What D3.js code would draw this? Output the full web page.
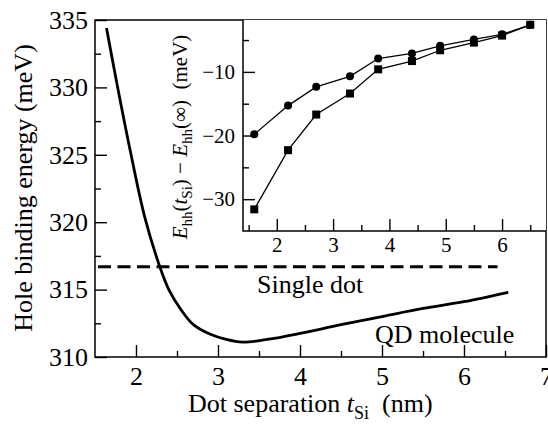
<!DOCTYPE html>
<html>
<head>
<meta charset="utf-8">
<script src="https://cdn.jsdelivr.net/npm/d3@7"></script>
<style>
body{margin:0;background:#fff;}
svg{display:block;}
</style>
</head>
<body>
<svg width="548" height="432"></svg>
<script>
// main curve: hole binding energy vs dot separation
var curveT = [1.64, 1.77, 1.94, 2.11, 2.29, 2.40, 2.55, 2.70, 2.90, 3.10, 3.30, 3.60, 4.00, 4.50, 5.00, 5.50, 6.00, 6.54];
var curveE = [334.4, 330.2, 325.0, 320.3, 316.7, 315.0, 313.5, 312.4, 311.7, 311.3, 311.1, 311.3, 311.75, 312.4, 313.0, 313.6, 314.1, 314.8];
var singleDot = 316.7;
var singleT = [1.5, 6.41];

// inset data
var insetT = [1.6, 2.2, 2.7, 3.3, 3.8, 4.4, 4.9, 5.5, 6.0, 6.5];
var insetCircle = [-19.8, -15.3, -12.35, -10.7, -7.9, -7.1, -5.9, -4.9, -4.1, -2.6];
var insetSquare = [-31.6, -22.3, -16.7, -13.4, -9.6, -8.3, -6.6, -5.4, -4.3, -2.6];

var xMajor = [2, 3, 4, 5, 6, 7];
var xMinor = [2.5, 3.5, 4.5, 5.5, 6.5];
var yMajor = [310, 315, 320, 325, 330, 335];
var yMinor = [312.5, 317.5, 322.5, 327.5, 332.5];
var xiMajor = [2, 3, 4, 5, 6];
var xiMinor = [1.5, 2.5, 3.5, 4.5, 5.5, 6.5];
var yiMajor = [-30, -20, -10];
var yiMinor = [-25, -15, -5];

var FONT = "Liberation Serif";

var svg = d3.select("svg").attr("font-family", FONT);

var x = d3.scaleLinear().domain([1.5, 7]).range([95, 546]);
var y = d3.scaleLinear().domain([310, 335]).range([357, 20]);
var xi = d3.scaleLinear().domain([1.4, 6.78]).range([243, 546]);
var yi = d3.scaleLinear().domain([-35, -1.8]).range([231, 19.7]);

function styleAxis(g, size){
	g.attr("font-family", FONT).attr("font-size", size);
	g.select(".domain").remove();
	g.selectAll("line").attr("stroke", "#000").attr("stroke-width", 1.4);
	g.selectAll("text").attr("font-family", FONT).attr("font-size", size).attr("fill", "#000");
}

function addText(parent, size){
	return parent.append("text").attr("font-family", FONT).attr("font-size", size).attr("fill", "#000");
}

// main axes
svg.append("g").attr("transform", "translate(0,357)")
	.call(d3.axisBottom(x).tickValues(xMajor).tickSize(-12).tickPadding(10).tickFormat(d3.format("d")))
	.call(styleAxis, 26);
svg.append("g").attr("transform", "translate(0,357)")
	.call(d3.axisBottom(x).tickValues(xMinor).tickSize(-6).tickFormat(""))
	.call(styleAxis, 26);
svg.append("g").attr("transform", "translate(95,0)")
	.call(d3.axisLeft(y).tickValues(yMajor).tickSize(-12).tickPadding(7).tickFormat(d3.format("d")))
	.call(styleAxis, 26);
svg.append("g").attr("transform", "translate(95,0)")
	.call(d3.axisLeft(y).tickValues(yMinor).tickSize(-6).tickFormat(""))
	.call(styleAxis, 26);

svg.append("rect")
	.attr("x", 95).attr("y", 20).attr("width", 451).attr("height", 337)
	.attr("fill", "none").attr("stroke", "#000").attr("stroke-width", 1.5);

// single dot dashed line
svg.append("line")
	.attr("x1", x(singleT[0]) + 3).attr("x2", x(singleT[1]))
	.attr("y1", y(singleDot)).attr("y2", y(singleDot))
	.attr("stroke", "#000").attr("stroke-width", 3).attr("stroke-dasharray", "13,6.5");

// QD molecule curve
var line = d3.line()
	.x(function(d, i){ return x(curveT[i]); })
	.y(function(d){ return y(d); })
	.curve(d3.curveCatmullRom.alpha(0.5));
svg.append("path")
	.attr("d", line(curveE))
	.attr("fill", "none").attr("stroke", "#000").attr("stroke-width", 2.8);

addText(svg, 26).attr("x", 257).attr("y", 293).text("Single dot");
addText(svg, 26).attr("x", 375).attr("y", 343).text("QD molecule");

// axis titles
var xt = addText(svg, 26).attr("x", 188).attr("y", 412);
xt.append("tspan").text("Dot separation ");
xt.append("tspan").attr("font-style", "italic").text("t");
xt.append("tspan").attr("dy", 7).attr("font-size", 18).text("Si");
xt.append("tspan").attr("dy", -7).text("\u00a0 (nm)");

addText(svg, 26)
	.attr("transform", "translate(32,188) rotate(-90)")
	.attr("text-anchor", "middle")
	.text("Hole binding energy (meV)");

// inset
var inset = svg.append("g");
inset.append("rect").attr("x", 243).attr("y", 20).attr("width", 303).attr("height", 211).attr("fill", "#fff");
inset.append("g").attr("transform", "translate(0,231)")
	.call(d3.axisBottom(xi).tickValues(xiMajor).tickSize(-12).tickPadding(6).tickFormat(d3.format("d")))
	.call(styleAxis, 21);
inset.append("g").attr("transform", "translate(0,231)")
	.call(d3.axisBottom(xi).tickValues(xiMinor).tickSize(-6).tickFormat(""))
	.call(styleAxis, 21);
inset.append("g").attr("transform", "translate(243,0)")
	.call(d3.axisLeft(yi).tickValues(yiMajor).tickSize(-12).tickPadding(8).tickFormat(d3.format("d")))
	.call(styleAxis, 21);
inset.append("g").attr("transform", "translate(243,0)")
	.call(d3.axisLeft(yi).tickValues(yiMinor).tickSize(-6).tickFormat(""))
	.call(styleAxis, 21);
inset.append("path")
	.attr("d", "M243,20V231H546")
	.attr("fill", "none").attr("stroke", "#000").attr("stroke-width", 1.5);

var iline = d3.line()
	.x(function(d, i){ return xi(insetT[i]); })
	.y(function(d){ return yi(d); });
[insetSquare, insetCircle].forEach(function(s){
	inset.append("path").attr("d", iline(s))
		.attr("fill", "none").attr("stroke", "#000").attr("stroke-width", 1.3);
});
inset.selectAll(".sq").data(insetSquare).enter().append("rect")
	.attr("x", function(d, i){ return xi(insetT[i]) - 4; })
	.attr("y", function(d){ return yi(d) - 4; })
	.attr("width", 8).attr("height", 8).attr("fill", "#000");
inset.selectAll(".ci").data(insetCircle).enter().append("circle")
	.attr("cx", function(d, i){ return xi(insetT[i]); })
	.attr("cy", function(d){ return yi(d); })
	.attr("r", 4).attr("fill", "#000");

var it = addText(inset, 21)
	.attr("transform", "translate(187,137) rotate(-90)")
	.attr("text-anchor", "middle");
it.append("tspan").attr("font-style", "italic").text("E");
it.append("tspan").attr("dy", 5).attr("font-size", 15).text("hh");
it.append("tspan").attr("dy", -5).text("(");
it.append("tspan").attr("font-style", "italic").text("t");
it.append("tspan").attr("dy", 5).attr("font-size", 15).text("Si");
it.append("tspan").attr("dy", -5).text(") \u2212 ");
it.append("tspan").attr("font-style", "italic").text("E");
it.append("tspan").attr("dy", 5).attr("font-size", 15).text("hh");
it.append("tspan").attr("dy", -5).text("(\u221e)\u00a0 (meV)");
</script>
</body>
</html>
